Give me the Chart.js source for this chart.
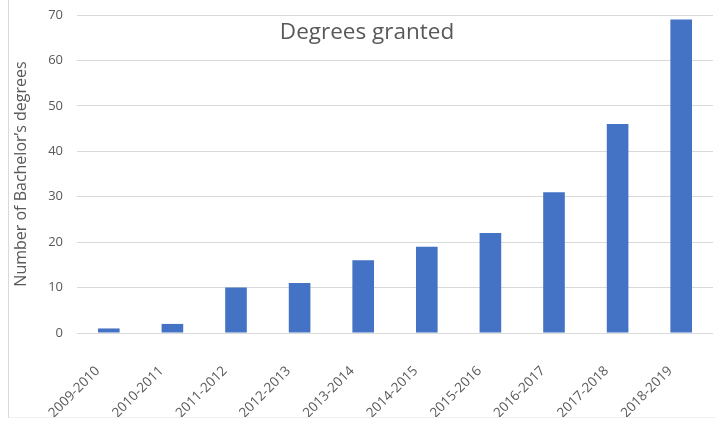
<!DOCTYPE html>
<html>
<head>
<meta charset="utf-8">
<script src="https://cdn.jsdelivr.net/npm/chart.js@4/dist/chart.umd.min.js"></script>
<style>
  html, body { margin: 0; padding: 0; background: #fff; }
  #wrap { position: relative; width: 715px; height: 426px; }
  #frame { position: absolute; left: 8px; top: 0; width: 707px; height: 418px;
           border-left: 1px solid #d9d9d9; border-bottom: 1px solid #f0f0f0; box-sizing: border-box; }
</style>
</head>
<body>
<div id="wrap">
  <div id="frame"></div>
  <canvas id="degrees" width="715" height="426"></canvas>
</div>
<script>
var years = ["2009-2010", "2010-2011", "2011-2012", "2012-2013", "2013-2014",
             "2014-2015", "2015-2016", "2016-2017", "2017-2018", "2018-2019"];
var degrees = [1, 2, 10, 11, 16, 19, 22, 31, 46, 69];
var yTicks = [0, 10, 20, 30, 40, 50, 60, 70];
var chartTitle = "Degrees granted";
var yTitle = "Number of Bachelor\u2019s degrees";

var FONT = "'Open Sans', 'Noto Sans', sans-serif";
var GREY = "#595959";

// title sits inside the plot area, not above it
var innerTitle = {
  id: 'innerTitle',
  afterDraw: function(chart) {
    var c = chart.ctx;
    c.save();
    c.font = "22.5px " + FONT;
    c.fillStyle = GREY;
    c.textAlign = "center";
    c.textBaseline = "middle";
    c.fillText(chartTitle, 367, 33);
    c.restore();
  }
};

var ctx = document.getElementById('degrees');
var chart = new Chart(ctx, {
  type: 'bar',
  data: {
    labels: years,
    datasets: [{
      data: degrees,
      backgroundColor: "#4472C4",
      categoryPercentage: 1.0,
      barPercentage: 0.34
    }]
  },
  options: {
    responsive: false,
    animation: false,
    layout: { padding: { left: 12, right: 2, top: 15, bottom: 0 } },
    plugins: {
      legend: { display: false },
      tooltip: { enabled: false }
    },
    scales: {
      x: {
        grid: { display: false },
        border: { display: false },
        ticks: {
          color: GREY,
          font: { family: FONT, size: 13.5 },
          minRotation: 45,
          maxRotation: 45,
          padding: 22,
          labelOffset: -11
        },
        afterFit: function(scale) {
          scale.height = 93;
          scale.paddingLeft = 0;
          scale.paddingRight = 0;
        }
      },
      y: {
        min: 0,
        max: 70,
        afterBuildTicks: function(scale) {
          scale.ticks = yTicks.map(function(v) { return { value: v }; });
        },
        grid: { color: "#d9d9d9", lineWidth: 1, drawTicks: false },
        border: { display: false },
        ticks: {
          color: GREY,
          font: { family: FONT, size: 13 },
          padding: 14
        },
        title: {
          display: true,
          text: yTitle,
          color: GREY,
          font: { family: FONT, size: 16 },
          padding: { top: 0, bottom: 2 }
        },
        afterFit: function(scale) {
          scale.width = 65;
          scale.paddingTop = 0;
          scale.paddingBottom = 0;
        }
      }
    }
  },
  plugins: [innerTitle]
});
</script>
</body>
</html>
